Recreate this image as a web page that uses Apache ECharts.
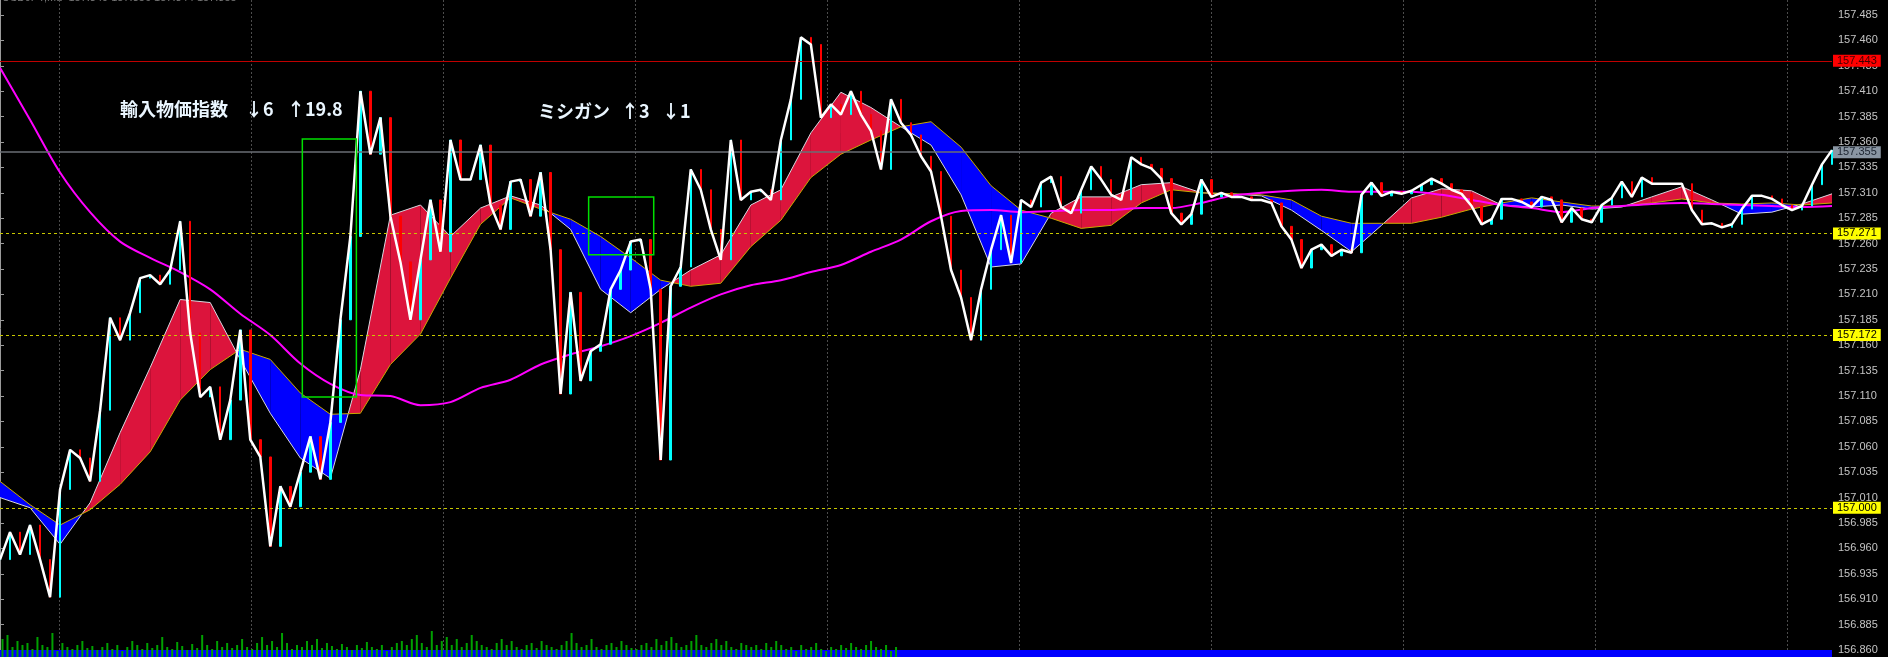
<!DOCTYPE html>
<html><head><meta charset="utf-8">
<script src="https://cdn.jsdelivr.net/npm/echarts@6/dist/echarts.min.js"></script>
<style>html,body{margin:0;padding:0;background:#000;overflow:hidden}#c{width:1888px;height:657px;}</style>
</head><body><div id="c"></div>
<script>
// ---------- data ----------
const priceTicks = [156.860,156.885,156.910,156.935,156.960,156.985,157.010,157.035,157.060,157.085,157.110,157.135,157.160,157.185,157.210,157.235,157.260,157.285,157.310,157.335,157.360,157.385,157.410,157.435,157.460,157.485];

const closes = [
156.949,156.976,156.954,156.983,156.949,156.912,157.018,157.057,157.049,157.026,
157.096,157.187,157.165,157.192,157.226,157.229,157.220,157.234,157.282,157.172,
157.109,157.119,157.067,157.106,157.175,157.067,157.050,156.962,157.021,157.001,
157.035,157.070,157.028,157.084,157.185,157.267,157.410,157.348,157.384,157.287,
157.242,157.185,157.244,157.303,157.252,157.362,157.323,157.323,157.357,157.298,
157.274,157.321,157.323,157.287,157.330,157.254,157.112,157.212,157.125,157.154,
157.161,157.215,157.234,157.262,157.264,157.215,157.047,157.218,157.237,157.333,
157.313,157.274,157.244,157.362,157.303,157.311,157.313,157.303,157.362,157.402,
157.463,157.456,157.384,157.397,157.387,157.410,157.387,157.371,157.333,157.402,
157.379,157.367,157.346,157.331,157.287,157.234,157.207,157.165,157.215,157.254,
157.288,157.241,157.303,157.296,157.320,157.326,157.296,157.290,157.313,157.336,
157.323,157.308,157.303,157.345,157.338,157.334,157.324,157.290,157.279,157.289,
157.323,157.306,157.310,157.306,157.306,157.303,157.303,157.300,157.277,157.264,
157.236,157.254,157.259,157.248,157.254,157.251,157.308,157.320,157.307,157.311,
157.309,157.312,157.318,157.324,157.319,157.313,157.309,157.297,157.279,157.284,
157.304,157.304,157.301,157.296,157.306,157.303,157.281,157.295,157.284,157.281,
157.298,157.305,157.321,157.306,157.325,157.319,157.319,157.319,157.319,157.293,
157.279,157.280,157.276,157.279,157.294,157.307,157.307,157.304,157.298,157.293,
157.297,157.318,157.338,157.352];

const fastMA = [
157.010,157.000,156.964,157.005,157.074,157.138,157.205,157.202,157.146,157.093,
157.049,157.029,157.136,157.288,157.298,157.267,157.295,157.307,157.298,157.274,
157.215,157.192,157.215,157.234,157.249,157.298,157.313,157.369,157.409,157.394,
157.375,157.357,157.308,157.237,157.240,157.290,157.306,157.306,157.318,157.320,
157.310,157.309,157.307,157.293,157.273,157.252,157.278,157.305,157.314,157.312,
157.298,157.296,157.298,157.294,157.296,157.306,157.316,157.303,157.289,157.291,
157.299,157.309];

const slowMA = [
157.026,157.003,156.983,156.998,157.023,157.055,157.106,157.136,157.156,157.146,
157.113,157.092,157.093,157.141,157.171,157.226,157.279,157.305,157.294,157.284,
157.267,157.246,157.224,157.218,157.221,157.257,157.283,157.325,157.348,157.362,
157.375,157.380,157.355,157.317,157.293,157.285,157.275,157.278,157.300,157.313,
157.310,157.309,157.308,157.303,157.287,157.280,157.280,157.280,157.286,157.294,
157.300,157.305,157.301,157.297,157.297,157.300,157.304,157.300,157.299,157.300,
157.298,157.300];

const longMA = [
157.433,157.382,157.330,157.291,157.262,157.246,157.232,157.215,157.191,157.170,
157.142,157.122,157.111,157.110,157.101,157.104,157.118,157.126,157.141,157.151,
157.159,157.169,157.182,157.197,157.210,157.219,157.224,157.232,157.239,157.252,
157.264,157.282,157.292,157.293,157.291,157.292,157.293,157.293,157.295,157.295,
157.300,157.307,157.310,157.312,157.313,157.311,157.311,157.311,157.308,157.303,
157.298,157.295,157.291,157.295,157.297,157.299,157.300,157.299,157.298,157.297,
157.296,157.297];

const volumes = [
18,22,10,16,12,14,8,20,12,10, 24,6,14,10,8,12,16,9,11,7,
10,14,8,12,6,10,16,12,8,14, 9,12,20,10,8,15,11,7,13,9,
22,12,8,16,10,14,9,12,18,10, 8,14,20,12,16,10,24,14,8,12,
10,16,12,18,9,14,11,8,13,10, 7,12,9,15,10,8,12,6,10,14,
16,12,18,22,14,10,26,12,16,20, 12,18,10,14,22,16,12,10,8,14,
18,12,16,10,8,12,14,9,16,12, 10,8,12,16,24,14,10,12,18,10,
8,12,14,10,16,12,9,8,12,14, 10,18,12,16,20,14,10,12,16,22,
12,10,14,18,12,16,10,8,14,12, 10,12,8,14,10,16,12,8,10,6,
12,8,10,14,8,6,10,8,12,9, 14,10,8,12,16,10,8,12,6,10];
const volumeSlots = 367;

const levelValues = [157.443, 157.355, 157.271, 157.172, 157.000];
const levelKinds  = ['high', 'current', 'level', 'level', 'level'];

// event boxes: [startIndex, topPrice, endIndex, bottomPrice]
const eventBoxes = [[30.2, 157.363, 35.6, 157.109], [58.8, 157.306, 65.3, 157.249]];

const eventTexts = [
  ['輸入物価指数', '↓6', '↑19.8'],
  ['ミシガン', '↑3', '↓1']
];

// ---------- styles ----------
const RED = '#dc143c', BLUE = '#0000ff';
const levelStyle = {
  high:    {line: {color: '#c00000', width: 1, type: 'solid'}, bg: '#ff0000', fg: '#400000'},
  current: {line: {color: '#6a6e74', width: 1.5, type: 'solid'}, bg: '#8a96a3', fg: '#1c2430'},
  level:   {line: {color: '#c8c800', width: 1, type: [3, 3]}, bg: '#ffff00', fg: '#000000'}
};

const candles = closes.map((c, i) => {
  const o = i > 0 ? closes[i - 1] : c;
  return [o, c, Math.min(o, c), Math.max(o, c)];
});
const cats = closes.map((_, i) => i);
const volCats = Array.from({length: volumeSlots}, (_, i) => i);

const chart = echarts.init(document.getElementById('c'), null, {renderer: 'canvas'});
const TXT = {fill: '#eaf6ff', font: 'bold 18px "Noto Sans CJK JP"'};

const option = {
  backgroundColor: '#000000',
  animation: false,
  grid: [
    {left: 0, right: 56, top: 0, bottom: 0, containLabel: false},
    {left: 59, right: 56, top: 0, bottom: 0, containLabel: false},
    {left: 0, right: 56, bottom: 0, height: 40, containLabel: false}
  ],
  xAxis: [
    {type: 'category', gridIndex: 0, data: cats, boundaryGap: false, show: false},
    {type: 'value', gridIndex: 0, min: 0, max: fastMA.length - 1, show: false},
    {type: 'value', gridIndex: 0, min: 0, max: closes.length - 1, show: false},
    {type: 'category', gridIndex: 2, data: volCats, boundaryGap: true, show: false},
    {type: 'value', gridIndex: 1, min: 0, max: 1773, interval: 192,
      axisLine: {show: false}, axisTick: {show: false}, axisLabel: {show: false},
      splitLine: {show: true, showMinLine: true, showMaxLine: false, lineStyle: {color: '#4c4c4c', width: 1, type: [2, 2]}}}
  ],
  yAxis: [
    {type: 'value', gridIndex: 0, position: 'right', min: 156.8531, max: 157.4998, scale: true,
      axisLine: {show: true, lineStyle: {color: '#9a9a9a', width: 1}},
      axisTick: {show: true, inside: false, length: 4, customValues: priceTicks, lineStyle: {color: '#9a9a9a'}},
      axisLabel: {show: true, customValues: priceTicks, margin: 6, color: '#c4c4c4', fontSize: 11, fontFamily: 'Liberation Sans, Arial, sans-serif',
        formatter: v => v.toFixed(3)},
      splitLine: {show: false}},
    {type: 'value', gridIndex: 2, min: 0, max: 40, show: false},
    {type: 'value', gridIndex: 1, min: 0, max: 1, show: false}
  ],
  graphic: [
    {type: 'text', left: 2, top: -8, silent: true, style: {text: 'USDJPY,M1  157.349 157.356 157.344 157.355', fill: '#7a7a7a', font: '11px "Liberation Sans"'}},
    {type: 'text', left: 120, top: 100, style: Object.assign({text: eventTexts[0][0]}, TXT)},
    {type: 'text', left: 245, top: 100, style: Object.assign({text: eventTexts[0][1]}, TXT)},
    {type: 'text', left: 287, top: 100, style: Object.assign({text: eventTexts[0][2]}, TXT)},
    {type: 'text', left: 538, top: 102, style: Object.assign({text: eventTexts[1][0]}, TXT)},
    {type: 'text', left: 621, top: 102, style: Object.assign({text: eventTexts[1][1]}, TXT)},
    {type: 'text', left: 662, top: 102, style: Object.assign({text: eventTexts[1][2]}, TXT)}
  ],
  series: [
    { // MA band fill
      type: 'custom', xAxisIndex: 1, yAxisIndex: 0, z: 1, clip: true, silent: true,
      data: fastMA.map((f, i) => [i, f, slowMA[i]]),
      encode: {x: 0, y: [1, 2]},
      renderItem: (params, api) => {
        const i = params.dataIndex;
        if (i >= fastMA.length - 1) return null;
        const f0 = fastMA[i], s0 = slowMA[i], f1 = fastMA[i + 1], s1 = slowMA[i + 1];
        const P = (x, v) => api.coord([x, v]);
        const d0 = f0 - s0, d1 = f1 - s1;
        const children = [];
        if (d0 * d1 >= 0) {
          children.push({type: 'polygon', shape: {points: [P(i, f0), P(i + 1, f1), P(i + 1, s1), P(i, s0)]},
            style: {fill: (d0 + d1) >= 0 ? RED : BLUE}});
        } else {
          const t = d0 / (d0 - d1);
          const xm = i + t, vm = f0 + t * (f1 - f0);
          children.push({type: 'polygon', shape: {points: [P(i, f0), P(xm, vm), P(i, s0)]}, style: {fill: d0 > 0 ? RED : BLUE}});
          children.push({type: 'polygon', shape: {points: [P(xm, vm), P(i + 1, f1), P(i + 1, s1)]}, style: {fill: d1 > 0 ? RED : BLUE}});
        }
        return {type: 'group', children};
      }
    },
    {type: 'line', xAxisIndex: 1, yAxisIndex: 0, z: 2, data: fastMA.map((v, i) => [i, v]), symbol: 'none',
      lineStyle: {color: '#d8d8e0', width: 1}, silent: true},
    {type: 'line', xAxisIndex: 1, yAxisIndex: 0, z: 2, data: slowMA.map((v, i) => [i, v]), symbol: 'none',
      lineStyle: {color: '#c8a800', width: 1}, silent: true},
    {type: 'line', xAxisIndex: 1, yAxisIndex: 0, z: 3, data: longMA.map((v, i) => [i, v]), symbol: 'none', smooth: 0.3,
      lineStyle: {color: '#ff00ff', width: 2}, silent: true},
    {type: 'candlestick', xAxisIndex: 0, yAxisIndex: 0, z: 4, data: candles, barWidth: 2,
      itemStyle: {color: '#00ffff', color0: '#ff0000', borderColor: '#00ffff', borderColor0: '#ff0000', borderWidth: 1}, silent: true},
    {type: 'line', xAxisIndex: 0, yAxisIndex: 0, z: 5, data: closes, symbol: 'none',
      lineStyle: {color: '#ffffff', width: 2.5}, silent: true,
      markLine: {
        silent: true, symbol: 'none', animation: false,
        data: levelValues.map((v, k) => {
          const st = levelStyle[levelKinds[k]];
          return {yAxis: v, lineStyle: st.line,
            label: {show: true, position: 'end', distance: 1, formatter: v.toFixed(3), backgroundColor: st.bg, color: st.fg,
              padding: [1, 4, 0, 4], fontSize: 11, fontFamily: 'Liberation Sans, Arial, sans-serif'}};
        })
      }
    },
    { // event boxes
      type: 'custom', xAxisIndex: 2, yAxisIndex: 0, z: 6, clip: true, silent: true,
      data: eventBoxes,
      encode: {x: [0, 2], y: [1, 3]},
      renderItem: (params, api) => {
        const b = eventBoxes[params.dataIndex];
        const p0 = api.coord([b[0], b[1]]), p1 = api.coord([b[2], b[3]]);
        return {type: 'rect', shape: {x: p0[0], y: p0[1], width: p1[0] - p0[0], height: p1[1] - p0[1]},
          style: {fill: null, stroke: '#00e000', lineWidth: 1.5}};
      }
    },
    {type: 'bar', xAxisIndex: 3, yAxisIndex: 1, z: 1, data: volumes, barWidth: 2,
      itemStyle: {color: '#00a000'}, silent: true,
      markArea: {silent: true, itemStyle: {color: '#0000ff', opacity: 1}, data: [[{yAxis: 0}, {yAxis: 7}]]}}
  ]
};
chart.setOption(option);
</script>
</body></html>
